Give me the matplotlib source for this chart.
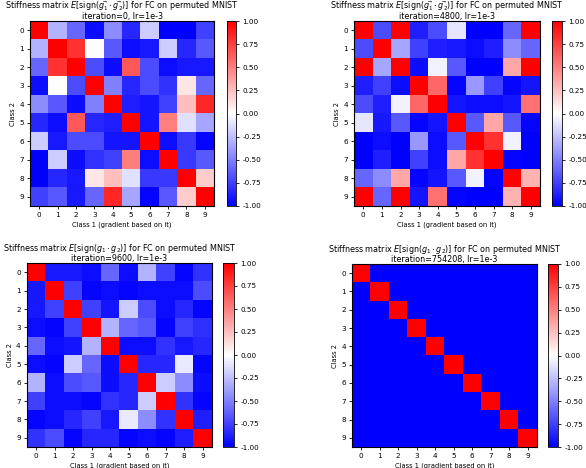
import matplotlib
matplotlib.use('Agg')
import matplotlib.pyplot as plt
import numpy as np

plt.rcParams['font.family'] = 'DejaVu Sans'
plt.rcParams['font.size'] = 5.2

classes = list(range(10))

# iteration 0
m_it0 = [
    [1.00, -0.30, -0.60, -0.95, -0.45, -0.85, -0.20, -1.00, -1.00, -0.75],
    [-0.30, 1.00, 0.80, 0.00, -0.65, -0.95, -0.90, -0.20, -0.85, -0.65],
    [-0.60, 0.80, 1.00, -0.70, -0.95, 0.65, -0.70, -0.95, -0.90, -0.90],
    [-0.95, 0.00, -0.70, 1.00, -0.50, -0.85, -0.70, -0.80, 0.10, -0.60],
    [-0.45, -0.65, -0.95, -0.50, 1.00, -0.88, -0.92, -0.75, 0.25, 0.85],
    [-0.85, -0.95, 0.65, -0.85, -0.88, 1.00, -0.92, 0.50, -0.12, -0.35],
    [-0.20, -0.90, -0.70, -0.70, -0.92, -0.92, 1.00, -0.95, -0.78, -0.98],
    [-1.00, -0.20, -0.95, -0.80, -0.75, 0.50, -0.95, 1.00, -0.78, -0.65],
    [-1.00, -0.85, -0.90, 0.10, 0.25, -0.12, -0.78, -0.78, 1.00, 0.20],
    [-0.75, -0.65, -0.90, -0.60, 0.85, -0.35, -0.98, -0.65, 0.20, 1.00],
]

# iteration 4800
m_it4800 = [
    [1.00, -0.70, 1.00, -0.88, -0.70, -0.10, -1.00, -1.00, -0.60, 1.00],
    [-0.70, 1.00, -0.35, -0.75, -0.88, -0.90, -0.95, -0.88, -0.45, -0.60],
    [1.00, -0.35, 1.00, -0.95, -0.05, -0.65, -1.00, -1.00, 0.35, 1.00],
    [-0.88, -0.75, -0.95, 1.00, 0.60, -0.98, -0.40, -0.75, -0.98, -0.92],
    [-0.70, -0.88, -0.05, 0.60, 1.00, -0.92, -0.95, -0.95, -0.92, 0.55],
    [-0.10, -0.90, -0.65, -0.98, -0.92, 1.00, -0.65, 0.35, -0.65, -0.98],
    [-1.00, -0.95, -1.00, -0.40, -0.95, -0.65, 1.00, 0.80, -0.05, -1.00],
    [-1.00, -0.88, -1.00, -0.75, -0.95, 0.35, 0.80, 1.00, -0.98, -1.00],
    [-0.60, -0.45, 0.35, -0.98, -0.92, -0.65, -0.05, -0.98, 1.00, 0.30],
    [1.00, -0.60, 1.00, -0.92, 0.55, -0.98, -1.00, -1.00, 0.30, 1.00],
]

# iteration 9600
m_it9600 = [
    [1.00, -0.90, -0.90, -0.95, -0.60, -0.95, -0.30, -0.75, -0.98, -0.80],
    [-0.90, 1.00, -0.75, -0.98, -0.95, -0.98, -0.95, -0.95, -0.95, -0.70],
    [-0.90, -0.75, 1.00, -0.75, -0.92, -0.20, -0.70, -0.95, -0.85, -0.98],
    [-0.95, -0.98, -0.75, 1.00, -0.30, -0.60, -0.65, -0.98, -0.75, -0.82],
    [-0.60, -0.95, -0.92, -0.30, 1.00, -0.95, -0.95, -0.80, -0.90, -0.85],
    [-0.95, -0.98, -0.20, -0.60, -0.95, 1.00, -0.85, -0.85, -0.08, -0.98],
    [-0.30, -0.95, -0.70, -0.65, -0.95, -0.85, 1.00, -0.20, -0.45, -0.95],
    [-0.75, -0.95, -0.95, -0.98, -0.80, -0.85, -0.20, 1.00, -0.80, -0.98],
    [-0.98, -0.95, -0.85, -0.75, -0.90, -0.08, -0.45, -0.80, 1.00, -0.88],
    [-0.80, -0.70, -0.98, -0.85, -0.85, -0.98, -0.95, -0.98, -0.88, 1.00],
]

# iteration 754208 -> fully converged
m_it754208 = [[1.00 if i == j else -1.00 for j in classes] for i in classes]

panels = [
    (m_it0, r'$\vec{g_1}\cdot\vec{g_2}$', 'iteration=0, lr=1e-3'),
    (m_it4800, r'$\vec{g_1}\cdot\vec{g_2}$', 'iteration=4800, lr=1e-3'),
    (m_it9600, r'$g_1\cdot g_2$', 'iteration=9600, lr=1e-3'),
    (m_it754208, r'$g_1\cdot g_2$', 'iteration=754208, lr=1e-3'),
]

W, H = 586, 468
# (ax left, ax top, ax right, ax bottom, cbar left, cbar right) in pixels
boxes = [
    (30, 21, 214, 206, 227, 236),
    (354, 21, 540, 206, 552, 562),
    (27, 263, 212, 447, 223, 234),
    (352, 264, 537, 447, 548, 558),
]

fig = plt.figure(figsize=(W / 100, H / 100), dpi=100)

for (mat, dot, sub), (x0, y0, x1, y1, c0, c1) in zip(panels, boxes):
    ax = fig.add_axes([x0 / W, 1 - y1 / H, (x1 - x0) / W, (y1 - y0) / H])
    cax = fig.add_axes([c0 / W, 1 - y1 / H, (c1 - c0) / W, (y1 - y0) / H])
    im = ax.imshow(np.array(mat), cmap='bwr', vmin=-1, vmax=1, aspect='auto')
    ax.set_xticks(classes)
    ax.set_yticks(classes)
    ax.set_xticklabels(classes)
    ax.set_yticklabels(classes)
    ax.set_xlabel('Class 1 (gradient based on it)', fontsize=4.9, labelpad=2)
    ax.set_ylabel('Class 2', fontsize=4.9, labelpad=2)
    ax.tick_params(length=2.5, width=0.6, pad=2)
    ax.set_title('Stiffness matrix $E[\\mathrm{sign}($' + dot + '$)]$ for FC on permuted MNIST\n' + sub,
                 fontsize=5.8, pad=0.8, linespacing=0.85)
    cb = fig.colorbar(im, cax=cax, ticks=np.linspace(-1, 1, 9))
    cb.ax.tick_params(length=2.5, width=0.6, pad=2)
    cb.ax.set_yticklabels(['%.2f' % t for t in np.linspace(-1, 1, 9)])
    cb.outline.set_linewidth(0.6)

fig.savefig('out.png', dpi=100)
